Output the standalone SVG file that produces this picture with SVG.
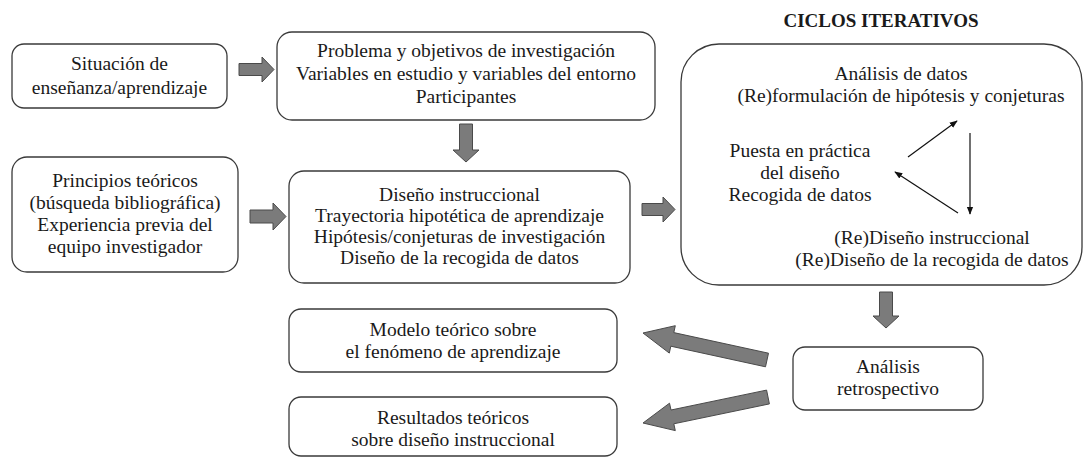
<svg xmlns="http://www.w3.org/2000/svg" width="1085" height="458" viewBox="0 0 1085 458">
<style>
.box{fill:#fff;stroke:#3a3a3a;stroke-width:1.3}
.t{font-family:"Liberation Serif","Times New Roman",serif;font-size:19.5px;fill:#1a1a1a;text-anchor:middle}
.title{font-family:"Liberation Serif","Times New Roman",serif;font-size:19px;font-weight:bold;fill:#1a1a1a;text-anchor:middle}
.blk{fill:#7b7b7b;stroke:#4a4a4a;stroke-width:1}
.thin{stroke:#111;stroke-width:1.2;fill:none;marker-end:url(#ah)}
</style>
<defs>
<marker id="ah" viewBox="0 0 10 10" refX="9" refY="5" markerWidth="8" markerHeight="8" markerUnits="userSpaceOnUse" orient="auto">
<path d="M0,1 L10,5 L0,9 Z" fill="#111"/>
</marker>
</defs>
<rect width="1085" height="458" fill="#fff"/>

<text class="title" x="881" y="27">CICLOS ITERATIVOS</text>

<g id="situacion">
<rect class="box" x="12" y="44" width="215" height="64" rx="12"/>
<text class="t" x="119.5" y="70">Situación de</text>
<text class="t" x="119.5" y="94">enseñanza/aprendizaje</text>
</g>

<g id="problema">
<rect class="box" x="277" y="32" width="378" height="88" rx="15"/>
<text class="t" x="466" y="57">Problema y objetivos de investigación</text>
<text class="t" x="466" y="80">Variables en estudio y variables del entorno</text>
<text class="t" x="466" y="103">Participantes</text>
</g>

<g id="principios">
<rect class="box" x="12" y="157" width="226" height="115" rx="15"/>
<text class="t" x="125" y="187">Principios teóricos</text>
<text class="t" x="125" y="209">(búsqueda bibliográfica)</text>
<text class="t" x="125" y="231">Experiencia previa del</text>
<text class="t" x="125" y="253">equipo investigador</text>
</g>

<g id="diseno">
<rect class="box" x="289" y="171" width="341" height="112" rx="15"/>
<text class="t" x="459.5" y="201">Diseño instruccional</text>
<text class="t" x="459.5" y="222">Trayectoria hipotética de aprendizaje</text>
<text class="t" x="459.5" y="243">Hipótesis/conjeturas de investigación</text>
<text class="t" x="459.5" y="264">Diseño de la recogida de datos</text>
</g>

<g id="ciclos">
<rect class="box" x="681" y="44" width="401" height="241" rx="38"/>
<text class="t" x="901" y="80">Análisis de datos</text>
<text class="t" x="901" y="102">(Re)formulación de hipótesis y conjeturas</text>
<text class="t" x="800" y="157">Puesta en práctica</text>
<text class="t" x="800" y="179">del diseño</text>
<text class="t" x="800" y="201">Recogida de datos</text>
<text class="t" x="932" y="244">(Re)Diseño instruccional</text>
<text class="t" x="932" y="266">(Re)Diseño de la recogida de datos</text>
</g>

<g id="modelo">
<rect class="box" x="289" y="309" width="328" height="63" rx="12"/>
<text class="t" x="453" y="336">Modelo teórico sobre</text>
<text class="t" x="453" y="358">el fenómeno de aprendizaje</text>
</g>

<g id="resultados">
<rect class="box" x="289" y="397" width="328" height="59" rx="12"/>
<text class="t" x="453" y="424">Resultados teóricos</text>
<text class="t" x="453" y="446">sobre diseño instruccional</text>
</g>

<g id="retrospectivo">
<rect class="box" x="793" y="347" width="190" height="63" rx="12"/>
<text class="t" x="888" y="373">Análisis</text>
<text class="t" x="888" y="395">retrospectivo</text>
</g>

<g id="connectors">
<polygon class="blk" points="239,63.5 262,63.5 262,57 274,69.5 262,82 262,75.5 239,75.5"/>
<polygon class="blk" points="250,210 273,210 273,203 286,216.5 273,230 273,223 250,223"/>
<polygon class="blk" points="642,203.5 663,203.5 663,197 675,209.5 663,222 663,215.5 642,215.5"/>
<polygon class="blk" points="459.5,124 472.5,124 472.5,150 479,150 466,162 453,150 459.5,150"/>
<polygon class="blk" points="879.5,292 892.5,292 892.5,316 899,316 886,328 873,316 879.5,316"/>
<polygon class="blk" points="643,333 675.3,325.7 673.8,332.6 768.5,353.2 765.5,366.8 670.8,346.2 669.3,353.1"/>
<polygon class="blk" points="643,423 669.5,403.2 671,410 766.6,390.1 769.4,403.9 673.8,423.8 675.3,430.6"/>
<line class="thin" x1="908" y1="157" x2="957" y2="121"/>
<line class="thin" x1="970" y1="133" x2="970" y2="214"/>
<line class="thin" x1="958" y1="213" x2="895" y2="172"/>
</g>
</svg>
